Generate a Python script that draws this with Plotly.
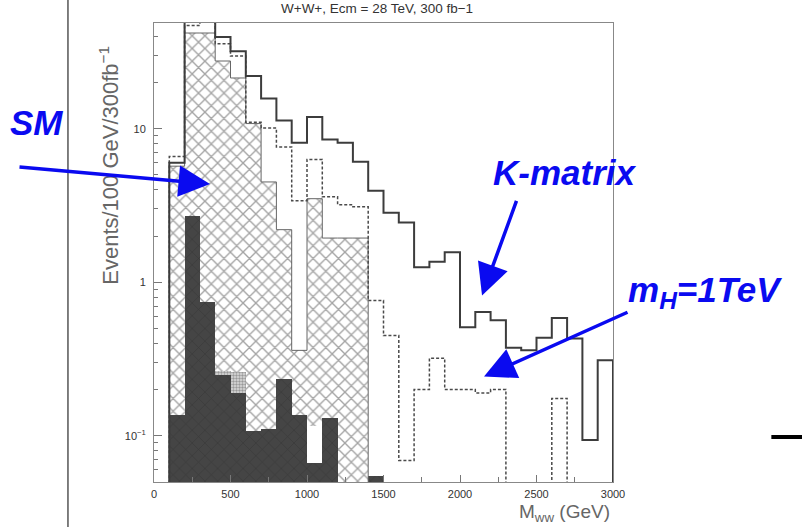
import numpy as np
import plotly.graph_objects as go

# 100 GeV bins from 0 to 3000 GeV
bin_edges = list(range(0, 3100, 100))
bin_centers = [e + 50 for e in bin_edges[:-1]]

# Events / 100 GeV / 300 fb^-1 (0 = empty bin)
k_matrix = [0, 6.0, 65, 60, 39.6, 32, 22, 15.7, 11.3, 8.1,
            11.9, 8.5, 8.1, 6.1, 3.95, 2.84, 2.45, 1.25, 1.36, 1.57,
            0.51, 0.64, 0.565, 0.374, 0.36, 0.435, 0.585, 0.43, 0.094, 0.31]
higgs_1tev = [0, 6.6, 47, 55, 35.8, 29.7, 11.0, 10.1, 7.6, 3.4,
              6.3, 3.6, 3.2, 3.1, 0.76, 0.45, 0.069, 0.20, 0.32, 0.20,
              0.20, 0.19, 0.20, 0, 0, 0, 0.175, 0, 0, 0]
sm = [0, 5.7, 42, 42, 27.6, 21.4, 10.8, 4.5, 2.2, 0.36,
      3.5, 1.94, 1.94, 1.94, 0, 0, 0, 0, 0, 0,
      0, 0, 0, 0, 0, 0, 0, 0, 0, 0]
background_dark = [0, 0.137, 2.7, 0.74, 0.25, 0.19, 0.108, 0.11, 0.233, 0.137,
                   0.066, 0.13, 0, 0, 0.055, 0, 0, 0, 0, 0,
                   0, 0, 0, 0, 0, 0, 0, 0, 0, 0]
background_dotted = [0, 0, 0, 0, 0.265, 0.262, 0, 0, 0, 0,
                     0, 0, 0, 0, 0, 0, 0, 0, 0, 0,
                     0, 0, 0, 0, 0, 0, 0, 0, 0, 0]
background_blank = [0, 0, 0, 0, 0, 0, 0, 0, 0, 0,
                    0.115, 0, 0, 0, 0, 0, 0, 0, 0, 0,
                    0, 0, 0, 0, 0, 0, 0, 0, 0, 0]

x_ticks = [0, 500, 1000, 1500, 2000, 2500, 3000]
x_minor = [250, 750, 1250, 1750, 2250, 2750]
y_ticks = [0.1, 1, 10]
y_ticktext = ["10<sup>\u22121</sup>", "1", "10"]
y_minor = [0.06, 0.07, 0.08, 0.09] + [m / 10 for m in range(2, 10)] + \
          list(range(2, 10)) + [20, 30, 40]

FLOOR = 1e-3  # below the visible range so empty bins drop off the frame


def bars(vals):
    return [v if v > 0 else None for v in vals]


def steps(vals):
    ys = [v if v > 0 else FLOOR for v in vals] + [FLOOR]
    return bin_edges, ys


fig = go.Figure()

fig.add_trace(go.Bar(
    x=bin_centers, y=bars(sm), width=100,
    marker=dict(color="white", line=dict(width=0),
                pattern=dict(shape="x", fgcolor="#4a4a4a", bgcolor="white",
                             size=9, solidity=0.28)),
    name="SM"))
fig.add_trace(go.Bar(
    x=bin_centers, y=bars(background_blank), width=100,
    marker=dict(color="white", line=dict(width=0))))
fig.add_trace(go.Bar(
    x=bin_centers, y=bars(background_dotted), width=100,
    marker=dict(color="white", line=dict(width=0),
                pattern=dict(shape=".", fgcolor="#555555", bgcolor="#dddddd",
                             size=3, solidity=0.5))))
fig.add_trace(go.Bar(
    x=bin_centers, y=bars(background_dark), width=100,
    marker=dict(color="#424242", line=dict(width=0),
                pattern=dict(shape="x", fgcolor="#2c2c2c", bgcolor="#454545",
                             size=9, solidity=0.14))))

sx, sy = steps(sm)
fig.add_trace(go.Scatter(x=sx, y=sy, mode="lines", line_shape="hv",
                         line=dict(color="#666666", width=1)))
hx, hy = steps(higgs_1tev)
fig.add_trace(go.Scatter(x=hx, y=hy, mode="lines", line_shape="hv",
                         line=dict(color="#4a4a4a", width=1.5, dash="3px,2px"),
                         name="m_H = 1 TeV"))
kx, ky = steps(k_matrix)
fig.add_trace(go.Scatter(x=kx, y=ky, mode="lines", line_shape="hv",
                         line=dict(color="#3c3c3c", width=2),
                         name="K-matrix"))

axis_font = dict(family="Liberation Sans", size=11, color="#333333")

fig.update_layout(
    width=802, height=527,
    margin=dict(l=154, r=189, t=23, b=45),
    paper_bgcolor="white", plot_bgcolor="white",
    barmode="overlay", bargap=0, showlegend=False,
    xaxis=dict(range=[0, 3000], tickvals=x_ticks, ticks="inside", ticklen=7,
               tickcolor="#777777", showline=True, linecolor="#888888",
               linewidth=1, mirror=True, showgrid=False, zeroline=False,
               tickfont=axis_font, ticklabelstandoff=2,
               minor=dict(tickvals=x_minor, ticks="inside", ticklen=5,
                          tickcolor="#777777", showgrid=False)),
    yaxis=dict(type="log", range=[np.log10(0.05), np.log10(48.8)],
               tickvals=y_ticks, ticktext=y_ticktext, ticks="inside",
               ticklen=8, tickcolor="#777777", showline=True,
               linecolor="#888888", linewidth=1, mirror=True, showgrid=False,
               zeroline=False, tickfont=axis_font, ticklabelstandoff=5,
               minor=dict(tickvals=y_minor, ticks="inside", ticklen=4,
                          tickcolor="#777777", showgrid=False)),
)

gray_title = dict(family="Liberation Sans", color="#666666")
blue = "#0a0af0"
blue_font = dict(family="Liberation Sans", size=35, color=blue)
centered = dict(xref="paper", yref="paper", showarrow=False,
                xanchor="center", yanchor="middle")

fig.add_annotation(x=0.485, y=1.031,
                   text="W+W+, Ecm = 28 TeV, 300 fb\u22121",
                   font=dict(family="Liberation Sans", size=13.5, color="#333333"),
                   **centered)
fig.add_annotation(x=-0.097, y=0.69,
                   text="Events/100 GeV/300fb<sup>\u22121</sup>", textangle=-90,
                   font=dict(size=22, **gray_title), **centered)
fig.add_annotation(x=0.895, y=-0.068,
                   text="M<sub>ww</sub> (GeV)",
                   font=dict(size=19, **gray_title), **centered)

# labels with pointers onto the histograms
fig.add_annotation(x=-0.257, y=0.784, text="<b><i>SM</i></b>",
                   font=blue_font, **centered)
fig.add_annotation(x=0.895, y=0.675, text="<b><i>K-matrix</i></b>",
                   font=blue_font, **centered)
fig.add_annotation(x=1.20, y=0.415, text="<b><i>m<sub>H</sub>=1TeV</i></b>",
                   font=blue_font, **centered)

arrow_style = dict(showarrow=True, arrowhead=2, arrowsize=1.8, arrowwidth=3.5,
                   arrowcolor=blue, text="", axref="pixel", ayref="pixel")
fig.add_annotation(x=366, y=np.log10(4.37), ax=-192, ay=-17, **arrow_style)
fig.add_annotation(x=2144, y=np.log10(0.82), ax=35, ay=-96, **arrow_style)
fig.add_annotation(x=2157, y=np.log10(0.243), ax=145, ay=-65, **arrow_style)

# slide furniture around the plot
fig.add_shape(type="line", xref="paper", yref="paper",
              x0=-0.1874, x1=-0.1874, y0=-0.1, y1=1.06,
              line=dict(color="black", width=1))
fig.add_shape(type="line", xref="paper", yref="paper",
              x0=1.345, x1=1.42, y0=0.098, y1=0.098,
              line=dict(color="black", width=4))
fig.add_annotation(xref="paper", yref="paper", x=1.408, y=-0.02,
                   text="(", showarrow=False, xanchor="left", yanchor="middle",
                   font=dict(family="Liberation Sans", size=18, color="#c05050"))

fig.write_html("out.html")
